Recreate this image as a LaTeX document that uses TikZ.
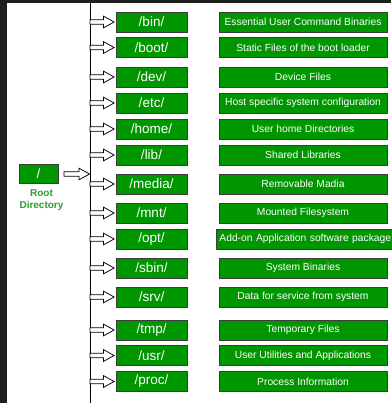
\documentclass[tikz,border=0pt]{standalone}
\usepackage{fontspec}
\setmainfont{Liberation Sans}
\usetikzlibrary{calc}
\definecolor{dirgreen}{HTML}{009600}
\definecolor{boxedge}{HTML}{3C3C3C}
\definecolor{darkband}{HTML}{1E1E1E}
\definecolor{rootgreen}{HTML}{2E9B2E}
\tikzset{
 dirbox/.style={draw=boxedge, fill=dirgreen, line width=0.8pt, minimum width=71pt, minimum height=20pt, inner sep=0pt, text=white, font=\fontsize{13.5}{13.5}\selectfont},
 descbox/.style={draw=boxedge, fill=dirgreen, line width=0.8pt, minimum width=168pt, minimum height=20pt, inner sep=0pt, text=white, font=\fontsize{10.3}{10.3}\selectfont},
 bus/.style={draw=black, line width=0.9pt},
 blockarr/.style={draw=black, fill=white, line width=0.75pt, line join=miter},
 rootlabel/.style={text=rootgreen, font=\bfseries\fontsize{10}{12}\selectfont, align=center, inner sep=0pt},
}
\newcommand\blockarrow[2]{%
 \draw[blockarr] let \p1=(#1), \p2=(#2) in
 (\x1,\y1-2.2pt) -- (\x2-12pt,\y1-2.2pt) -- (\x2-12pt,\y1-5.8pt) -- (\x2-1.5pt,\y1) -- (\x2-12pt,\y1+5.8pt) -- (\x2-12pt,\y1+2.2pt) -- (\x1,\y1+2.2pt) -- cycle;}
\begin{document}
\begin{tikzpicture}[x=1pt,y=-1pt]
\fill[white] (0,0) rectangle (391,403);
\fill[darkband] (0,0) rectangle (6.5,403);
\fill[darkband] (0,0) rectangle (391,3);
\useasboundingbox (0,0) rectangle (391,403);
\coordinate (bustop) at (90,3);
\coordinate (busbot) at (90,403);
\draw[bus] (bustop) -- (busbot);
\foreach \nm/\yy in {bin/22,boot/47.5,dev/77,etc/103,home/129,lib/155,media/184,mnt/213,opt/239,sbin/268,srv/297,tmp/330,usr/355.5,proc/381.5}{
 \node[dirbox] (\nm) at (151.5,\yy) {/\nm/};
 \coordinate (b-\nm) at (90,\yy);
 \blockarrow{b-\nm}{\nm.west}
}
\foreach \nm/\yy/\dd in {bin/22/{Essential User Command Binaries},boot/47.5/{Static Files of the boot loader},dev/77/{Device Files},etc/103/{Host specific system configuration},home/129/{User home Directories},lib/155/{Shared Libraries},media/184/{Removable Madia},mnt/213/{Mounted Filesystem},sbin/268/{System Binaries},srv/297/{Data for service from system},tmp/330/{Temporary Files},usr/355.5/{User Utilities and Applications},proc/381.5/{Process Information}}{
 \node[descbox] (d-\nm) at (303,\yy) {\dd};
}
\node[descbox, minimum width=180pt, anchor=west, text width=174pt, align=left, inner xsep=3pt] (d-opt) at (216,239) {Add-on Application software package};
\node[dirbox, minimum width=39pt, minimum height=19pt] (root) at (38.5,173.5) {/};
\node[rootlabel] (rootlbl) at (41.5,200) {Root\\Directory};
\coordinate (ra) at (64,174);
\coordinate (rb) at (91,174);
\blockarrow{ra}{rb}
\end{tikzpicture}
\end{document}
